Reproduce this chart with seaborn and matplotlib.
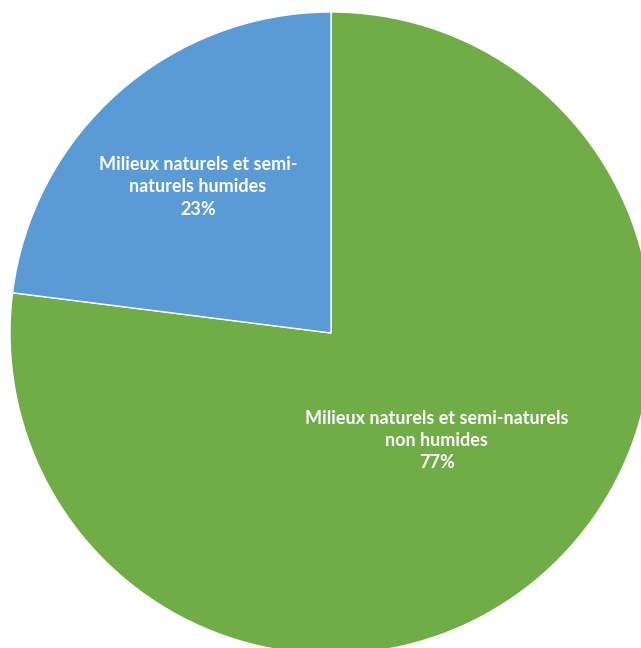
import matplotlib
matplotlib.use('Agg')
import matplotlib.pyplot as plt
import seaborn as sns

# Données
categories = ['Milieux naturels et semi-naturels\nnon humides',
              'Milieux naturels et semi-\nnaturels humides']
valeurs = [77, 23]
couleurs = ['#70AD47', '#5B9BD5']

sns.set_style('white')
plt.rcParams['font.family'] = ['Lato', 'DejaVu Sans']

fig = plt.figure(figsize=(6.41, 6.48), dpi=100)
ax = fig.add_axes([0, 0, 1, 1])

wedges, _ = ax.pie(valeurs, colors=couleurs, startangle=90, counterclock=False,
                   radius=1, center=(0, 0),
                   wedgeprops={'edgecolor': 'white', 'linewidth': 1})

# Étiquettes (position en fraction du rayon)
positions = [(0.33, -0.335), (-0.414, 0.455)]
for cat, val, (x, y) in zip(categories, valeurs, positions):
    ax.text(x, y, f'{cat}\n{val}%', ha='center', va='center', color='white',
            fontsize=13, fontweight='bold', linespacing=1.38)

# Le camembert dépasse à droite et en bas comme dans l'original
ax.set_xlim(-331 / 321, 310 / 321)
ax.set_ylim(-315 / 321, 333 / 321)
ax.set_aspect('auto')
ax.axis('off')

fig.savefig('out.png', dpi=100)
